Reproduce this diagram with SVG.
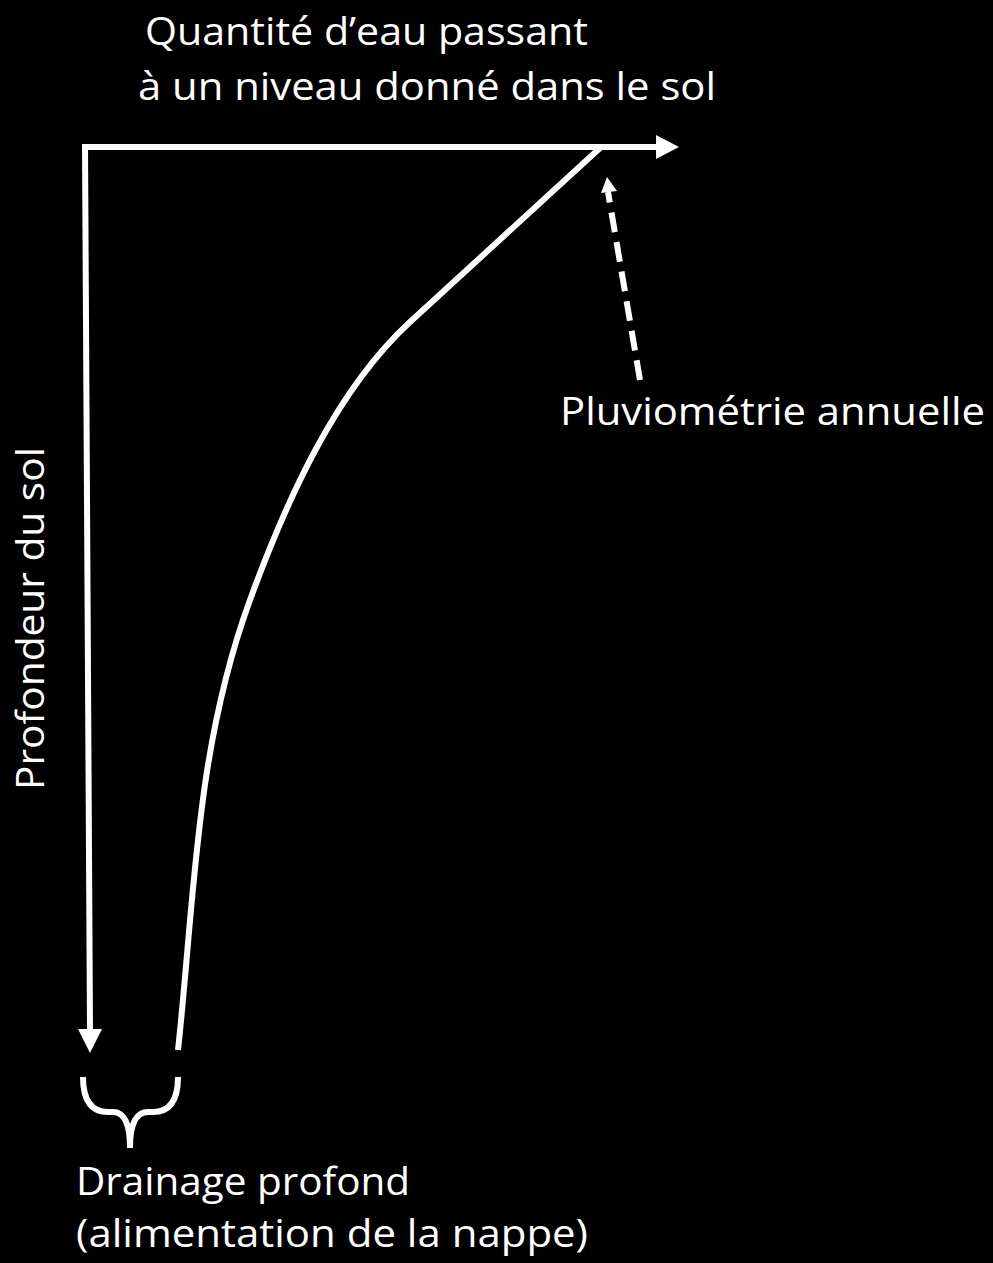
<svg xmlns="http://www.w3.org/2000/svg" width="993" height="1263" viewBox="0 0 993 1263">
<style>
.t{font-family:"Open Sans","Liberation Sans",sans-serif;font-size:39px;fill:#fff}
.ln{fill:none;stroke:#fff;stroke-width:6}
</style>
<rect width="993" height="1263" fill="#000"/>
<g id="connectors">
<path class="ln" d="M85,147 L658,147"/>
<path d="M656,135 L679,147 L656,159 Z" fill="#fff"/>
<path class="ln" d="M85,144 L90,1031"/>
<path d="M78,1029 L90,1053 L102,1029 Z" fill="#fff"/>
<path class="ln" d="M600,148 L410,322 C336,390 286.5,500 250,600 C195,750 194.5,900 178,1050"/>
<path class="ln" stroke-dasharray="20,10" d="M640,380 L608,192"/>
<path d="M601,193 L607,177 L617,191 Z" fill="#fff"/>
<path class="ln" d="M83,1077 Q83,1112 108,1112 L113,1112 Q130,1112 130,1148 M178,1077 Q178,1112 153,1112 L148,1112 Q130,1112 130,1148"/>
</g>
<g id="label-x">
<text class="t" x="145" y="45" textLength="443" lengthAdjust="spacingAndGlyphs">Quantité d’eau passant</text>
<text class="t" x="138" y="100" textLength="578" lengthAdjust="spacingAndGlyphs">à un niveau donné dans le sol</text>
</g>
<g id="label-pluvio">
<text class="t" x="560" y="425" textLength="425" lengthAdjust="spacingAndGlyphs">Pluviométrie annuelle</text>
</g>
<g id="label-y">
<text class="t" transform="translate(44,790) rotate(-90)" textLength="343" lengthAdjust="spacingAndGlyphs">Profondeur du sol</text>
</g>
<g id="label-drainage">
<text class="t" x="76" y="1195" textLength="334" lengthAdjust="spacingAndGlyphs">Drainage profond</text>
<text class="t" x="76" y="1247" textLength="512" lengthAdjust="spacingAndGlyphs">(alimentation de la nappe)</text>
</g>
</svg>
